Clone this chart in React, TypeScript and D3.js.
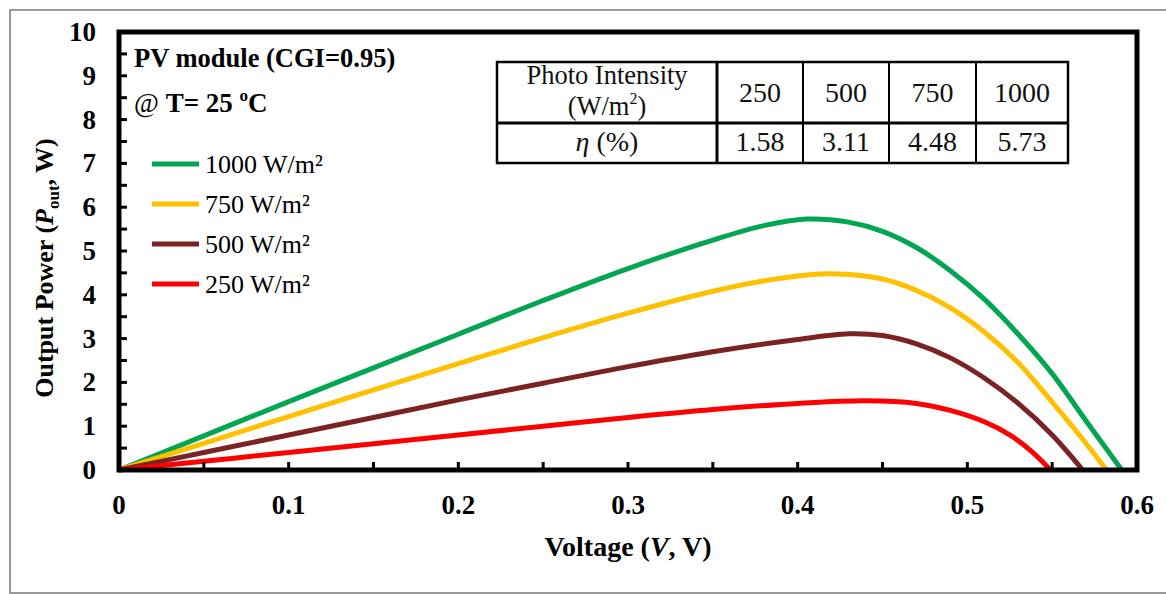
import React from "react";
import * as d3 from "d3";

// Irradiance levels and their P–V curves (voltage in V, power in W)
const intensities = ["1000", "750", "500", "250"];
const colors = ["#00A650", "#FFC000", "#7B2222", "#FF0000"];

const v1000 = [0, 0.05, 0.1, 0.15, 0.2, 0.25, 0.3, 0.35, 0.38, 0.405, 0.43, 0.45, 0.47, 0.49, 0.51, 0.53, 0.55, 0.57, 0.591];
const p1000 = [0, 0.78, 1.56, 2.33, 3.1, 3.87, 4.6, 5.25, 5.58, 5.73, 5.66, 5.45, 5.08, 4.55, 3.9, 3.1, 2.2, 1.12, 0];

const v750 = [0, 0.05, 0.1, 0.15, 0.2, 0.25, 0.3, 0.35, 0.39, 0.42, 0.45, 0.47, 0.49, 0.51, 0.53, 0.55, 0.566, 0.582];
const p750 = [0, 0.61, 1.22, 1.83, 2.43, 3.02, 3.58, 4.08, 4.38, 4.48, 4.36, 4.1, 3.7, 3.15, 2.45, 1.55, 0.8, 0];

const v500 = [0, 0.05, 0.1, 0.15, 0.2, 0.25, 0.3, 0.35, 0.4, 0.43, 0.45, 0.47, 0.49, 0.51, 0.53, 0.55, 0.568];
const p500 = [0, 0.4, 0.8, 1.2, 1.6, 1.98, 2.36, 2.7, 2.98, 3.11, 3.07, 2.88, 2.56, 2.1, 1.52, 0.8, 0];

const v250 = [0, 0.05, 0.1, 0.15, 0.2, 0.25, 0.3, 0.35, 0.4, 0.44, 0.47, 0.49, 0.51, 0.525, 0.538, 0.549];
const p250 = [0, 0.2, 0.4, 0.6, 0.8, 1.0, 1.2, 1.38, 1.52, 1.58, 1.52, 1.36, 1.1, 0.8, 0.42, 0];

const seriesV = [v1000, v750, v500, v250];
const seriesP = [p1000, p750, p500, p250];

// Efficiency table
const tableIntensities = ["250", "500", "750", "1000"];
const tableEfficiency = ["1.58", "3.11", "4.48", "5.73"];

const xTicks = [0, 0.1, 0.2, 0.3, 0.4, 0.5, 0.6];
const yTicks = [0, 1, 2, 3, 4, 5, 6, 7, 8, 9, 10];

const W = 1166;
const H = 594;
const left = 119;
const right = 1137;
const top = 32;
const bottom = 470;
const serif = "'Liberation Serif', 'DejaVu Serif', 'Times New Roman', serif";

export default function App() {
  const x = d3.scaleLinear().domain([0, 0.6]).range([left, right]);
  const y = d3.scaleLinear().domain([0, 10]).range([bottom, top]);
  const line = d3
    .line<[number, number]>()
    .x((d) => x(d[0]))
    .y((d) => y(d[1]))
    .curve(d3.curveCatmullRom.alpha(0.5));

  const minorX = d3.range(0.05, 0.6, 0.05);
  const minorY = d3.range(0.5, 10, 0.5);

  // table geometry
  const tx = [497, 717, 803, 889, 976, 1068];
  const ty = [62, 123, 163];
  const headX = (tx[0] + tx[1]) / 2;

  return (
    <svg
      width={W}
      height={H}
      style={{ position: "absolute", left: 0, top: 0, background: "#fff", fontFamily: serif }}
    >
      <rect x={10} y={10} width={W + 10} height={583} fill="#fff" stroke="#9a9a9a" strokeWidth={2} />

      {/* curves */}
      <g fill="none" strokeWidth={5}>
        {seriesV.map((vs, i) => (
          <path
            key={intensities[i]}
            d={line(vs.map((v, j) => [v, seriesP[i][j]]) as [number, number][]) || ""}
            stroke={colors[i]}
          />
        ))}
      </g>

      {/* ticks (inward) */}
      <g stroke="#000" strokeWidth={3}>
        {minorX.map((t) => (
          <line key={"xt" + t} x1={x(t)} x2={x(t)} y1={bottom} y2={bottom - 8} />
        ))}
        {minorY.map((t) => (
          <line key={"yt" + t} x1={left} x2={left + 8} y1={y(t)} y2={y(t)} />
        ))}
      </g>

      {/* frame */}
      <rect x={left} y={top} width={right - left} height={bottom - top} fill="none" stroke="#000" strokeWidth={5} />

      {/* tick labels */}
      <g fontWeight="bold" fontSize={27} fill="#000">
        {xTicks.map((t) => (
          <text key={"xl" + t} x={x(t)} y={514} textAnchor="middle">
            {t === 0 ? "0" : t.toFixed(1)}
          </text>
        ))}
        {yTicks.map((t) => (
          <text key={"yl" + t} x={96} y={y(t) + 9} textAnchor="end">
            {t}
          </text>
        ))}
      </g>

      {/* axis titles */}
      <text x={628} y={556} textAnchor="middle" fontWeight="bold" fontSize={28}>
        Voltage (<tspan fontStyle="italic">V</tspan>, V)
      </text>
      <text
        transform="translate(53,268) rotate(-90)"
        textAnchor="middle"
        fontWeight="bold"
        fontSize={26}
      >
        Output Power (<tspan fontStyle="italic">P</tspan>
        <tspan fontSize={17} dy={6}>out</tspan>
        <tspan dy={-6}>, W)</tspan>
      </text>

      {/* annotations */}
      <text x={134} y={67} fontWeight="bold" fontSize={26.5}>
        PV module (CGI=0.95)
      </text>
      <text x={134} y={112} fontSize={27}>
        <tspan>@</tspan> <tspan fontWeight="bold">T= 25 </tspan>
        <tspan fontWeight="bold" fontSize={17} dy={-11}>o</tspan>
        <tspan fontWeight="bold" dy={11}>C</tspan>
      </text>

      {/* legend */}
      {intensities.map((s, i) => {
        const ly = 164 + i * 40;
        return (
          <g key={"lg" + s}>
            <line x1={152} x2={199} y1={ly} y2={ly} stroke={colors[i]} strokeWidth={5} />
            <text x={205} y={ly + 9} fontSize={26}>
              {s} W/m²
            </text>
          </g>
        );
      })}

      {/* efficiency table */}
      <g>
        <rect x={tx[0]} y={ty[0]} width={tx[5] - tx[0]} height={ty[2] - ty[0]} fill="#fff" stroke="#000" strokeWidth={2.5} />
        <line x1={tx[0]} x2={tx[5]} y1={ty[1]} y2={ty[1]} stroke="#000" strokeWidth={3} />
        {tx.slice(1, 5).map((cx, i) => (
          <line key={"col" + i} x1={cx} x2={cx} y1={ty[0]} y2={ty[2]} stroke="#000" strokeWidth={i === 0 ? 3 : 2} />
        ))}
        <g textAnchor="middle" fill="#111">
          <text x={headX} y={84} fontSize={26.5}>
            Photo Intensity
          </text>
          <text x={headX} y={115} fontSize={26.5}>
            (W/m<tspan fontSize={16} dy={-11}>2</tspan>
            <tspan dy={11}>)</tspan>
          </text>
          <text x={headX} y={151} fontSize={28}>
            <tspan fontStyle="italic">η</tspan> (%)
          </text>
          {tableIntensities.map((t, i) => (
            <text key={"ti" + t} x={(tx[i + 1] + tx[i + 2]) / 2} y={102} fontSize={28}>
              {t}
            </text>
          ))}
          {tableEfficiency.map((t, i) => (
            <text key={"te" + t} x={(tx[i + 1] + tx[i + 2]) / 2} y={151} fontSize={28}>
              {t}
            </text>
          ))}
        </g>
      </g>
    </svg>
  );
}
